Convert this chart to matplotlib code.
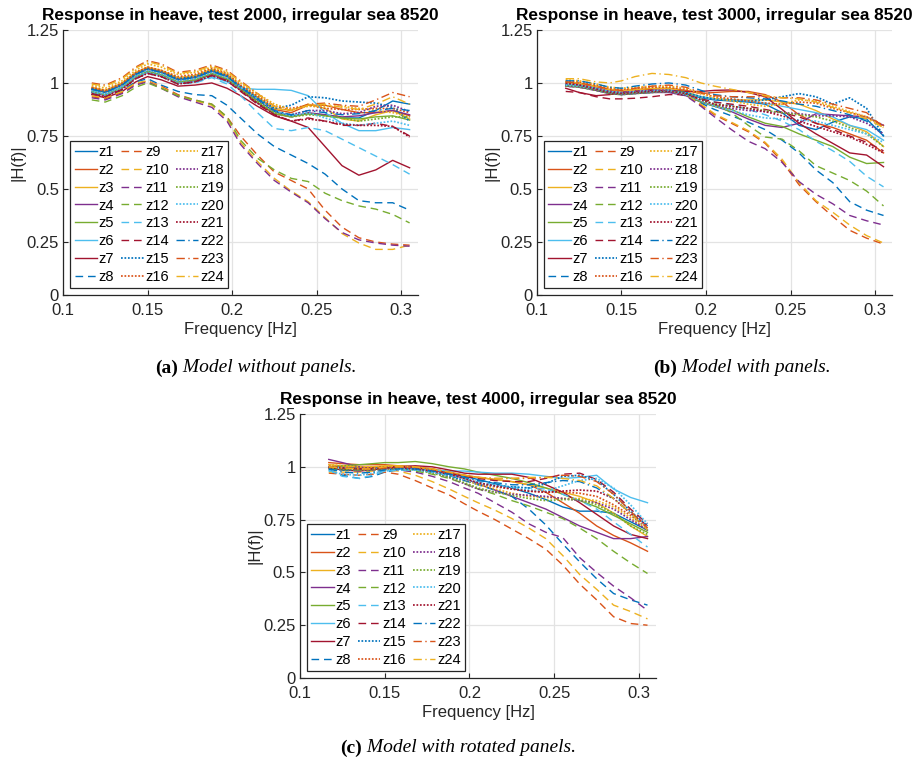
import matplotlib.pyplot as plt

plt.rcParams['font.family'] = ['Liberation Sans', 'DejaVu Sans']

# sample frequencies [Hz]
FREQ = [0.117, 0.125, 0.135, 0.143, 0.15, 0.158, 0.168, 0.178, 0.188, 0.197, 0.205,
        0.215, 0.225, 0.235, 0.245, 0.255, 0.265, 0.275, 0.285, 0.295, 0.305]

SENSORS = [f'z{i}' for i in range(1, 25)]

# |H(f)| per sensor, test 2000 (model without panels)
TEST_2000 = [
    [0.97, 0.955, 0.99, 1.04, 1.065, 1.05, 1.015, 1.025, 1.055, 1.03, 0.975, 0.92, 0.865, 0.845, 0.855, 0.85, 0.835, 0.835, 0.87, 0.915, 0.9],
    [0.975, 0.96, 0.995, 1.045, 1.07, 1.055, 1.02, 1.03, 1.06, 1.035, 0.98, 0.93, 0.875, 0.86, 0.895, 0.895, 0.875, 0.86, 0.86, 0.87, 0.845],
    [0.98, 0.965, 1.0, 1.05, 1.075, 1.06, 1.025, 1.035, 1.065, 1.04, 0.985, 0.935, 0.88, 0.87, 0.9, 0.88, 0.83, 0.82, 0.85, 0.87, 0.83],
    [0.955, 0.94, 0.975, 1.025, 1.05, 1.035, 1.0, 1.01, 1.04, 1.015, 0.965, 0.905, 0.855, 0.84, 0.86, 0.85, 0.84, 0.845, 0.86, 0.87, 0.85],
    [0.96, 0.945, 0.98, 1.03, 1.055, 1.04, 1.005, 1.015, 1.045, 1.02, 0.97, 0.91, 0.855, 0.84, 0.855, 0.845, 0.835, 0.83, 0.84, 0.845, 0.825],
    [0.96, 0.945, 0.98, 1.03, 1.05, 1.035, 1.0, 1.005, 1.03, 1.005, 0.975, 0.97, 0.97, 0.965, 0.94, 0.86, 0.81, 0.775, 0.775, 0.79, 0.78],
    [0.945, 0.93, 0.96, 1.005, 1.03, 1.015, 0.985, 0.99, 1.0, 0.975, 0.94, 0.89, 0.845, 0.82, 0.79, 0.7, 0.61, 0.565, 0.59, 0.635, 0.6],
    [0.95, 0.935, 0.965, 1.005, 1.02, 0.99, 0.96, 0.945, 0.94, 0.895, 0.835, 0.76, 0.7, 0.66, 0.62, 0.57, 0.5, 0.445, 0.435, 0.435, 0.4],
    [0.935, 0.925, 0.955, 0.995, 1.01, 0.985, 0.945, 0.92, 0.9, 0.84, 0.75, 0.66, 0.58, 0.54, 0.5, 0.4, 0.32, 0.27, 0.25, 0.24, 0.235],
    [0.94, 0.93, 0.96, 1.0, 1.01, 0.98, 0.94, 0.915, 0.895, 0.83, 0.72, 0.63, 0.55, 0.49, 0.44, 0.365, 0.29, 0.245, 0.215, 0.215, 0.235],
    [0.93, 0.92, 0.95, 0.99, 1.005, 0.975, 0.935, 0.91, 0.885, 0.82, 0.71, 0.62, 0.54, 0.485, 0.435, 0.36, 0.295, 0.26, 0.245, 0.235, 0.23],
    [0.92, 0.91, 0.94, 0.98, 1.0, 0.975, 0.94, 0.92, 0.9, 0.84, 0.73, 0.645, 0.59, 0.55, 0.535, 0.48, 0.445, 0.42, 0.405, 0.38, 0.34],
    [0.955, 0.94, 0.975, 1.02, 1.045, 1.03, 0.995, 1.0, 1.025, 0.995, 0.94, 0.86, 0.785, 0.775, 0.79, 0.775, 0.735, 0.695, 0.655, 0.615, 0.57],
    [0.95, 0.935, 0.97, 1.02, 1.045, 1.03, 0.995, 1.005, 1.035, 1.01, 0.96, 0.9, 0.85, 0.82, 0.835, 0.82, 0.8, 0.8, 0.81, 0.795, 0.75],
    [0.975, 0.96, 0.995, 1.045, 1.07, 1.055, 1.02, 1.03, 1.06, 1.035, 0.985, 0.93, 0.88, 0.895, 0.935, 0.93, 0.915, 0.91, 0.905, 0.885, 0.82],
    [0.98, 0.965, 1.0, 1.05, 1.075, 1.06, 1.03, 1.04, 1.07, 1.045, 0.99, 0.94, 0.89, 0.88, 0.895, 0.88, 0.875, 0.875, 0.88, 0.88, 0.86],
    [0.99, 0.975, 1.01, 1.06, 1.09, 1.075, 1.04, 1.05, 1.075, 1.05, 1.0, 0.95, 0.9, 0.875, 0.89, 0.89, 0.89, 0.88, 0.87, 0.86, 0.84],
    [0.965, 0.95, 0.985, 1.035, 1.06, 1.045, 1.01, 1.02, 1.05, 1.025, 0.975, 0.92, 0.865, 0.85, 0.87, 0.87, 0.855, 0.86, 0.89, 0.895, 0.865],
    [0.96, 0.945, 0.98, 1.03, 1.055, 1.04, 1.005, 1.015, 1.045, 1.02, 0.97, 0.915, 0.86, 0.84, 0.85, 0.845, 0.835, 0.82, 0.83, 0.84, 0.84],
    [0.965, 0.95, 0.985, 1.035, 1.06, 1.045, 1.01, 1.02, 1.05, 1.025, 0.98, 0.925, 0.87, 0.845, 0.86, 0.835, 0.81, 0.8, 0.81, 0.82, 0.8],
    [0.95, 0.935, 0.97, 1.02, 1.045, 1.03, 0.995, 1.005, 1.035, 1.01, 0.965, 0.905, 0.85, 0.82, 0.83, 0.82, 0.805, 0.8, 0.8, 0.795, 0.745],
    [0.97, 0.955, 0.99, 1.04, 1.065, 1.05, 1.015, 1.025, 1.055, 1.03, 0.98, 0.925, 0.87, 0.85, 0.87, 0.86, 0.85, 0.855, 0.87, 0.88, 0.87],
    [1.0, 0.99, 1.025, 1.075, 1.105, 1.09, 1.05, 1.06, 1.085, 1.06, 1.01, 0.95, 0.89, 0.87, 0.9, 0.905, 0.895, 0.89, 0.92, 0.955, 0.935],
    [0.995, 0.985, 1.02, 1.07, 1.1, 1.085, 1.045, 1.055, 1.08, 1.055, 1.005, 0.95, 0.89, 0.87, 0.895, 0.9, 0.885, 0.875, 0.9, 0.935, 0.9],
]

# test 3000 (model with panels)
TEST_3000 = [
    [0.99, 0.985, 0.965, 0.95, 0.945, 0.95, 0.955, 0.96, 0.95, 0.93, 0.92, 0.915, 0.91, 0.9, 0.86, 0.8, 0.78, 0.815, 0.84, 0.83, 0.75],
    [1.0, 0.995, 0.98, 0.965, 0.96, 0.965, 0.97, 0.975, 0.965, 0.95, 0.955, 0.96, 0.96, 0.945, 0.91, 0.85, 0.81, 0.79, 0.76, 0.73, 0.67],
    [1.005, 1.0, 0.985, 0.97, 0.965, 0.97, 0.975, 0.975, 0.96, 0.935, 0.925, 0.92, 0.92, 0.92, 0.91, 0.9, 0.87, 0.83, 0.8, 0.77, 0.7],
    [0.985, 0.98, 0.965, 0.95, 0.945, 0.95, 0.955, 0.955, 0.94, 0.91, 0.89, 0.865, 0.83, 0.8, 0.79, 0.81, 0.855, 0.85, 0.845, 0.84, 0.8],
    [0.99, 0.985, 0.97, 0.955, 0.95, 0.955, 0.96, 0.96, 0.945, 0.91, 0.89, 0.875, 0.84, 0.81, 0.795, 0.76, 0.73, 0.7, 0.65, 0.62, 0.625],
    [0.995, 0.99, 0.975, 0.96, 0.955, 0.96, 0.96, 0.965, 0.955, 0.935, 0.925, 0.92, 0.915, 0.905, 0.89, 0.875, 0.86, 0.84, 0.8, 0.78, 0.73],
    [0.975, 0.955, 0.94, 0.945, 0.955, 0.96, 0.965, 0.965, 0.96, 0.96, 0.965, 0.967, 0.955, 0.935, 0.875, 0.81, 0.76, 0.715, 0.67, 0.66, 0.605],
    [0.99, 0.985, 0.97, 0.955, 0.95, 0.955, 0.96, 0.96, 0.94, 0.905, 0.875, 0.845, 0.815, 0.78, 0.73, 0.67, 0.59, 0.53, 0.44, 0.4, 0.375],
    [0.995, 0.99, 0.975, 0.96, 0.955, 0.96, 0.965, 0.965, 0.945, 0.895, 0.85, 0.81, 0.77, 0.715, 0.63, 0.52, 0.44, 0.37, 0.305, 0.268, 0.24],
    [1.0, 0.995, 0.98, 0.965, 0.96, 0.965, 0.965, 0.965, 0.945, 0.9, 0.855, 0.815, 0.775, 0.72, 0.64, 0.53, 0.445, 0.39, 0.33, 0.28, 0.245],
    [0.985, 0.98, 0.965, 0.955, 0.95, 0.955, 0.96, 0.96, 0.94, 0.89, 0.84, 0.78, 0.725, 0.69, 0.625, 0.535, 0.475, 0.43, 0.375, 0.35, 0.33],
    [0.99, 0.985, 0.97, 0.955, 0.95, 0.955, 0.96, 0.965, 0.955, 0.925, 0.9, 0.86, 0.8, 0.745, 0.735, 0.68, 0.61, 0.575, 0.54, 0.49, 0.42],
    [0.995, 0.99, 0.975, 0.96, 0.955, 0.96, 0.965, 0.965, 0.95, 0.925, 0.91, 0.895, 0.875, 0.85, 0.82, 0.78, 0.725, 0.68, 0.63, 0.56, 0.51],
    [0.96, 0.955, 0.935, 0.925, 0.925, 0.928, 0.935, 0.945, 0.945, 0.925, 0.91, 0.9, 0.89, 0.875, 0.86, 0.84, 0.81, 0.78, 0.75, 0.72, 0.68],
    [0.99, 0.985, 0.97, 0.955, 0.95, 0.955, 0.96, 0.965, 0.955, 0.935, 0.925, 0.92, 0.915, 0.92, 0.935, 0.95, 0.935, 0.9, 0.93, 0.88, 0.75],
    [1.01, 1.005, 0.99, 0.975, 0.97, 0.975, 0.98, 0.98, 0.97, 0.95, 0.935, 0.925, 0.915, 0.905, 0.9, 0.91, 0.905, 0.88, 0.86, 0.84, 0.8],
    [1.015, 1.01, 0.995, 0.98, 0.975, 0.98, 0.985, 0.985, 0.975, 0.95, 0.93, 0.915, 0.9, 0.89, 0.9, 0.92, 0.915, 0.89, 0.865, 0.84, 0.79],
    [0.995, 0.99, 0.975, 0.96, 0.955, 0.96, 0.965, 0.965, 0.95, 0.92, 0.895, 0.88, 0.87, 0.865, 0.86, 0.855, 0.845, 0.845, 0.84, 0.81, 0.76],
    [0.985, 0.98, 0.965, 0.95, 0.945, 0.95, 0.955, 0.96, 0.95, 0.92, 0.9, 0.89, 0.88, 0.87, 0.86, 0.85, 0.84, 0.82, 0.79, 0.76, 0.7],
    [0.99, 0.985, 0.97, 0.955, 0.95, 0.955, 0.96, 0.96, 0.945, 0.915, 0.89, 0.87, 0.85, 0.835, 0.83, 0.825, 0.82, 0.8, 0.78, 0.76, 0.72],
    [1.0, 0.99, 0.97, 0.955, 0.95, 0.955, 0.96, 0.96, 0.95, 0.92, 0.9, 0.89, 0.88, 0.865, 0.845, 0.82, 0.795, 0.77, 0.745, 0.71, 0.67],
    [1.01, 1.01, 0.995, 0.98, 0.975, 0.985, 0.995, 1.0, 0.99, 0.965, 0.945, 0.935, 0.93, 0.925, 0.915, 0.9, 0.89, 0.87, 0.85, 0.82, 0.76],
    [1.005, 1.0, 0.985, 0.97, 0.965, 0.975, 0.985, 0.99, 0.98, 0.955, 0.94, 0.935, 0.935, 0.935, 0.93, 0.93, 0.92, 0.9, 0.88, 0.86, 0.79],
    [1.02, 1.02, 1.005, 1.0, 1.01, 1.03, 1.045, 1.04, 1.025, 1.0, 0.985, 0.97, 0.955, 0.94, 0.93, 0.925, 0.91, 0.885, 0.86, 0.83, 0.79],
]

# test 4000 (model with rotated panels)
TEST_4000 = [
    [1.0, 1.0, 0.995, 0.995, 1.0, 1.0, 0.995, 0.985, 0.97, 0.955, 0.94, 0.92, 0.9, 0.875, 0.845, 0.81, 0.79, 0.79, 0.78, 0.74, 0.7],
    [1.02, 1.015, 1.01, 1.01, 1.01, 1.005, 1.0, 0.99, 0.975, 0.96, 0.95, 0.94, 0.93, 0.915, 0.88, 0.83, 0.78, 0.72, 0.675, 0.64, 0.6],
    [1.01, 1.005, 1.0, 1.0, 1.005, 1.005, 1.0, 0.99, 0.975, 0.96, 0.95, 0.94, 0.93, 0.915, 0.9, 0.88, 0.86, 0.83, 0.78, 0.72, 0.67],
    [1.035, 1.02, 1.0, 0.99, 0.99, 0.995, 0.995, 0.985, 0.965, 0.945, 0.92, 0.89, 0.86, 0.83, 0.8, 0.76, 0.72, 0.69, 0.66, 0.66, 0.67],
    [1.0, 1.005, 1.01, 1.015, 1.02, 1.02, 1.025, 1.015, 1.0, 0.99, 0.975, 0.96, 0.945, 0.925, 0.9, 0.87, 0.84, 0.81, 0.77, 0.73, 0.69],
    [1.0, 0.995, 0.99, 0.99, 0.995, 0.995, 0.99, 0.985, 0.98, 0.98, 0.975, 0.97, 0.97, 0.965, 0.955, 0.945, 0.95, 0.96, 0.895, 0.855, 0.83],
    [0.995, 0.985, 0.98, 0.985, 0.995, 1.0, 1.005, 1.0, 0.985, 0.97, 0.965, 0.965, 0.965, 0.95, 0.915, 0.88, 0.83, 0.775, 0.72, 0.68, 0.66],
    [0.985, 0.96, 0.945, 0.955, 0.975, 0.985, 0.985, 0.975, 0.96, 0.935, 0.915, 0.89, 0.86, 0.8, 0.725, 0.635, 0.55, 0.47, 0.4, 0.37, 0.345],
    [0.97, 0.965, 0.96, 0.965, 0.975, 0.965, 0.935, 0.9, 0.867, 0.825, 0.79, 0.75, 0.705, 0.66, 0.61, 0.535, 0.445, 0.37, 0.29, 0.258, 0.25],
    [0.975, 0.975, 0.975, 0.98, 0.985, 0.98, 0.96, 0.93, 0.895, 0.86, 0.83, 0.795, 0.755, 0.71, 0.66, 0.58, 0.49, 0.42, 0.345, 0.315, 0.28],
    [0.99, 0.985, 0.98, 0.985, 0.99, 0.985, 0.975, 0.955, 0.93, 0.9, 0.875, 0.83, 0.785, 0.73, 0.69, 0.665, 0.57, 0.5, 0.435, 0.38, 0.32],
    [0.99, 0.985, 0.985, 0.99, 0.995, 0.99, 0.98, 0.965, 0.945, 0.92, 0.895, 0.87, 0.84, 0.815, 0.785, 0.755, 0.71, 0.66, 0.6, 0.545, 0.495],
    [0.985, 0.955, 0.945, 0.96, 0.98, 0.985, 0.985, 0.975, 0.96, 0.945, 0.93, 0.915, 0.905, 0.9, 0.895, 0.87, 0.84, 0.8, 0.74, 0.68, 0.62],
    [0.995, 0.99, 0.99, 0.995, 1.0, 1.0, 0.995, 0.985, 0.97, 0.955, 0.945, 0.935, 0.93, 0.93, 0.945, 0.965, 0.97, 0.94, 0.88, 0.8, 0.73],
    [0.99, 0.985, 0.985, 0.99, 0.995, 0.995, 0.99, 0.975, 0.955, 0.935, 0.92, 0.91, 0.905, 0.9, 0.92, 0.955, 0.96, 0.935, 0.87, 0.79, 0.72],
    [1.005, 1.0, 0.995, 0.995, 1.0, 1.0, 0.995, 0.985, 0.965, 0.94, 0.92, 0.905, 0.895, 0.885, 0.88, 0.88, 0.875, 0.86, 0.82, 0.77, 0.71],
    [1.01, 1.005, 1.0, 1.0, 1.0, 1.0, 0.995, 0.985, 0.965, 0.94, 0.915, 0.895, 0.875, 0.86, 0.855, 0.85, 0.85, 0.84, 0.81, 0.76, 0.7],
    [1.0, 0.995, 0.985, 0.985, 0.99, 0.995, 0.99, 0.975, 0.95, 0.92, 0.895, 0.88, 0.87, 0.865, 0.86, 0.85, 0.84, 0.83, 0.8, 0.75, 0.7],
    [0.995, 0.99, 0.985, 0.985, 0.99, 0.99, 0.985, 0.97, 0.95, 0.925, 0.9, 0.88, 0.865, 0.85, 0.84, 0.845, 0.845, 0.82, 0.78, 0.72, 0.68],
    [0.98, 0.965, 0.96, 0.97, 0.98, 0.985, 0.985, 0.975, 0.96, 0.94, 0.925, 0.91, 0.9, 0.89, 0.885, 0.91, 0.935, 0.945, 0.9, 0.82, 0.73],
    [1.0, 0.995, 0.99, 0.99, 0.995, 0.995, 0.99, 0.98, 0.965, 0.945, 0.925, 0.91, 0.895, 0.885, 0.88, 0.885, 0.89, 0.885, 0.85, 0.78, 0.72],
    [0.99, 0.975, 0.97, 0.975, 0.985, 0.99, 0.99, 0.98, 0.965, 0.95, 0.935, 0.925, 0.915, 0.915, 0.925, 0.935, 0.93, 0.9, 0.85, 0.78, 0.7],
    [1.0, 0.995, 0.99, 0.99, 0.995, 1.0, 1.0, 0.99, 0.975, 0.96, 0.95, 0.945, 0.945, 0.945, 0.95, 0.96, 0.955, 0.93, 0.87, 0.79, 0.71],
    [1.0, 0.995, 0.99, 0.99, 1.0, 1.0, 1.0, 0.99, 0.975, 0.96, 0.95, 0.945, 0.945, 0.95, 0.95, 0.945, 0.935, 0.91, 0.85, 0.78, 0.7],
]

X_TICKS = [0.1, 0.15, 0.2, 0.25, 0.3]
X_LABELS = ['0.1', '0.15', '0.2', '0.25', '0.3']
Y_TICKS = [0, 0.25, 0.5, 0.75, 1, 1.25]
Y_LABELS = ['0', '0.25', '0.5', '0.75', '1', '1.25']

# matlab default colour order, cycled per line style
COLORS = ['#0072BD', '#D95319', '#EDB120', '#7E2F8E', '#77AC30', '#4DBEEE', '#A2142F']
STYLES = ['-', (0, (5.5, 3.5)), (0, (1, 1)), (0, (6, 2.5, 1, 2.5))]
WIDTHS = [1.0, 1.0, 1.25, 1.0]
INK = '#262626'


def draw_panel(ax, curves, title):
    for i, vals in enumerate(curves):
        ax.plot(FREQ, vals, color=COLORS[i % 7], ls=STYLES[i // 7], lw=WIDTHS[i // 7],
                label=SENSORS[i])
    ax.set_xlim(0.1, 0.31)
    ax.set_ylim(0, 1.25)
    ax.set_xticks(X_TICKS)
    ax.set_xticklabels(X_LABELS)
    ax.set_yticks(Y_TICKS)
    ax.set_yticklabels(Y_LABELS)
    ax.grid(True, color='#e3e3e3', lw=0.9)
    ax.set_axisbelow(True)
    for s in ['top', 'right']:
        ax.spines[s].set_visible(False)
    for s in ['left', 'bottom']:
        ax.spines[s].set_color(INK)
        ax.spines[s].set_linewidth(0.9)
    ax.tick_params(direction='in', length=3.5, colors=INK, labelsize=12)
    ax.tick_params(axis='x', pad=6)
    ax.tick_params(axis='y', pad=3)
    ax.set_title(title, fontweight='bold', fontsize=12.4, pad=7)
    ax.set_xlabel('Frequency [Hz]', fontsize=12, color=INK, labelpad=3)
    ax.set_ylabel('|H(f)|', fontsize=12, color=INK, labelpad=1)
    leg = ax.legend(ncol=3, loc='lower left', bbox_to_anchor=(0.02, 0.026),
                    fontsize=10.5, handlelength=1.55, handletextpad=0.12,
                    columnspacing=0.45, labelspacing=0.26, borderpad=0.3,
                    borderaxespad=0, fancybox=False, framealpha=1)
    leg.get_frame().set_edgecolor(INK)
    leg.get_frame().set_linewidth(0.9)


fig = plt.figure(figsize=(9.19, 7.66), dpi=100)
ax_a = fig.add_axes([0.0686, 0.6149, 0.3863, 0.3460])
ax_b = fig.add_axes([0.5843, 0.6149, 0.3863, 0.3460])
ax_c = fig.add_axes([0.3264, 0.1149, 0.3874, 0.3446])

draw_panel(ax_a, TEST_2000, 'Response in heave, test 2000, irregular sea 8520')
draw_panel(ax_b, TEST_3000, 'Response in heave, test 3000, irregular sea 8520')
draw_panel(ax_c, TEST_4000, 'Response in heave, test 4000, irregular sea 8520')


def caption(xc, yc, tag, text):
    # bold tag followed by italic text, centred at (xc, yc) in pixels
    t1 = fig.text(0, 0, tag, family='Liberation Serif', weight='bold', size=14, va='center')
    t2 = fig.text(0, 0, ' ' + text, family='Liberation Serif', style='italic', size=14, va='center')
    r = fig.canvas.get_renderer()
    w1 = t1.get_window_extent(r).width
    w2 = t2.get_window_extent(r).width
    left = xc - (w1 + w2) / 2
    W, H = fig.bbox.width, fig.bbox.height
    t1.set_position((left / W, 1 - yc / H))
    t2.set_position(((left + w1) / W, 1 - yc / H))


caption(256, 368, '(a)', 'Model without panels.')
caption(742, 368, '(b)', 'Model with panels.')
caption(458, 748, '(c)', 'Model with rotated panels.')

fig.savefig('out.png', dpi=100)
